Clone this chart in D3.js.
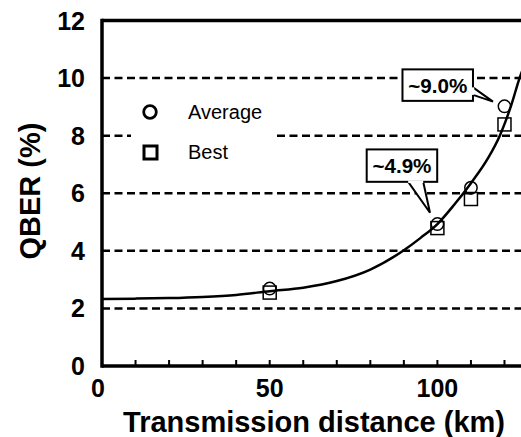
<!DOCTYPE html>
<html>
<head>
    <script src="https://d3js.org/d3.v7.min.js"></script>
    <style>
        body { margin: 0; background: #fff; }
        text { font-family: "Liberation Sans", Arial, Helvetica, sans-serif; fill: #000; }
        .tick-label { font-size: 25px; font-weight: bold; }
        .axis-title { font-size: 29px; font-weight: bold; }
        .legend-label { font-size: 20px; }
        .note { font-size: 21px; font-weight: bold; }
        .grid { stroke: #000; stroke-width: 2.5px; stroke-dasharray: 8 4.5; }
    </style>
</head>
<body>
    <div id="chart"></div>

    <script>
        // Measured points
        const distances = [50, 100, 110, 120];
        const averageQber = [2.69, 4.93, 6.19, 9.02];
        const bestQber = [2.55, 4.79, 5.80, 8.39];

        // Fitted curve
        const curveKm = [0, 10, 20, 30, 40, 50, 60, 70, 80, 90, 95, 100, 105, 110, 115, 118.6, 120, 122, 124.5, 126.5];
        const curveQber = [2.33, 2.34, 2.36, 2.40, 2.47, 2.60, 2.72, 2.95, 3.35, 4.02, 4.45, 4.93, 5.6, 6.35, 7.2, 8.0, 8.4, 9.05, 10.0, 10.6];

        // Axis ticks and labels
        const xTicks = [0, 50, 100];
        const xMinorTicks = [10, 20, 30, 40, 50, 60, 70, 80, 90, 100, 110, 120];
        const yTicks = [0, 2, 4, 6, 8, 10, 12];
        const gridLines = [2, 4, 6, 8, 10];

        // Callouts
        const notes = [
            { label: "~9.0%", km: 120, value: 9.0 },
            { label: "~4.9%", km: 100, value: 4.9 }
        ];
        const legendItems = ["Average", "Best"];

        const width = 521;
        const height = 437;

        const x = d3.scaleLinear().domain([0, 126]).range([102, 102 + 126 * 3.354]);
        const y = d3.scaleLinear().domain([0, 12]).range([366, 20.5]);

        const svg = d3.select("#chart")
            .append("svg")
            .attr("width", width)
            .attr("height", height);

        // Dashed grid lines
        svg.selectAll(".grid")
            .data(gridLines)
            .enter()
            .append("line")
            .attr("class", "grid")
            .attr("x1", x(0))
            .attr("x2", width)
            .attr("y1", d => y(d))
            .attr("y2", d => y(d));

        // Legend background hides the grid line behind it
        svg.append("rect")
            .attr("x", 131)
            .attr("y", 95)
            .attr("width", 146)
            .attr("height", 75)
            .attr("fill", "#fff");

        // Frame
        svg.append("line")
            .attr("x1", x(0)).attr("x2", width)
            .attr("y1", y(0)).attr("y2", y(0))
            .attr("stroke", "#000").attr("stroke-width", 3.5);
        svg.append("line")
            .attr("x1", x(0)).attr("x2", width)
            .attr("y1", y(12)).attr("y2", y(12))
            .attr("stroke", "#000").attr("stroke-width", 3.5);
        svg.append("line")
            .attr("x1", x(0)).attr("x2", x(0))
            .attr("y1", y(12) - 1.75).attr("y2", y(0) + 1.75)
            .attr("stroke", "#000").attr("stroke-width", 3.5);

        // Minor ticks pointing inward
        svg.selectAll(".minor")
            .data(xMinorTicks)
            .enter()
            .append("line")
            .attr("class", "minor")
            .attr("x1", d => x(d))
            .attr("x2", d => x(d))
            .attr("y1", y(0))
            .attr("y2", y(0) - 6)
            .attr("stroke", "#000")
            .attr("stroke-width", 2);

        // Tick labels
        svg.selectAll(".xlab")
            .data(xTicks)
            .enter()
            .append("text")
            .attr("class", "tick-label")
            .attr("text-anchor", "middle")
            .attr("x", d => x(d) - (d === 0 ? 4 : 0))
            .attr("y", 397)
            .text(d => d);

        svg.selectAll(".ylab")
            .data(yTicks)
            .enter()
            .append("text")
            .attr("class", "tick-label")
            .attr("text-anchor", "end")
            .attr("x", 85)
            .attr("y", d => y(d) + 9)
            .text(d => d);

        // Axis titles
        svg.append("text")
            .attr("class", "axis-title")
            .attr("text-anchor", "middle")
            .attr("x", 314)
            .attr("y", 432)
            .text("Transmission distance (km)");

        svg.append("text")
            .attr("class", "axis-title")
            .attr("text-anchor", "middle")
            .attr("transform", "translate(40,191) rotate(-90)")
            .text("QBER (%)");

        // Fit curve
        const line = d3.line()
            .x(d => x(d[0]))
            .y(d => y(d[1]))
            .curve(d3.curveMonotoneX);

        svg.append("path")
            .datum(d3.zip(curveKm, curveQber))
            .attr("d", line)
            .attr("fill", "none")
            .attr("stroke", "#000")
            .attr("stroke-width", 2.5);

        // Markers
        svg.selectAll(".best")
            .data(d3.zip(distances, bestQber))
            .enter()
            .append("rect")
            .attr("x", d => x(d[0]) - 6.5)
            .attr("y", d => y(d[1]) - 6.5)
            .attr("width", 13)
            .attr("height", 13)
            .attr("fill", "none")
            .attr("stroke", "#000")
            .attr("stroke-width", 1.5);

        svg.selectAll(".avg")
            .data(d3.zip(distances, averageQber))
            .enter()
            .append("circle")
            .attr("cx", d => x(d[0]))
            .attr("cy", d => y(d[1]))
            .attr("r", 6.2)
            .attr("fill", "none")
            .attr("stroke", "#000")
            .attr("stroke-width", 1.5);

        // Legend
        const legend = svg.append("g");
        legend.append("circle")
            .attr("cx", 150).attr("cy", 112).attr("r", 6.3)
            .attr("fill", "none").attr("stroke", "#000").attr("stroke-width", 2.8);
        legend.append("rect")
            .attr("x", 144).attr("y", 146).attr("width", 13).attr("height", 13)
            .attr("fill", "none").attr("stroke", "#000").attr("stroke-width", 3);
        legend.selectAll(".legend-label")
            .data(legendItems)
            .enter()
            .append("text")
            .attr("class", "legend-label")
            .attr("x", 188)
            .attr("y", (d, i) => 119 + i * 40)
            .text(d => d);

        // Callout boxes
        function callout(note, box, tail) {
            const px = x(note.km), py = y(note.value);
            const g = svg.append("g");
            g.append("path")
                .attr("d", `M${box.x0 + tail[0][0]},${box.y0 + tail[0][1]} L${px + tail[1][0]},${py + tail[1][1]} L${box.x0 + tail[2][0]},${box.y0 + tail[2][1]}`)
                .attr("fill", "#fff")
                .attr("stroke", "#000")
                .attr("stroke-width", 2);
            g.append("rect")
                .attr("x", box.x0).attr("y", box.y0)
                .attr("width", box.w).attr("height", box.h)
                .attr("fill", "#fff").attr("stroke", "#000").attr("stroke-width", 2);
            // patch the join so the tail opens into the box
            g.append("path")
                .attr("d", `M${box.x0 + tail[0][0]},${box.y0 + tail[0][1]} L${box.x0 + tail[2][0]},${box.y0 + tail[2][1]}`)
                .attr("stroke", "#fff").attr("stroke-width", 2.5);
            g.append("text")
                .attr("class", "note")
                .attr("text-anchor", "middle")
                .attr("x", box.x0 + box.w / 2)
                .attr("y", box.y0 + box.h / 2 + 7.5)
                .attr("textLength", 59)
                .attr("lengthAdjust", "spacingAndGlyphs")
                .text(note.label);
        }

        const px9 = x(notes[0].km), py9 = y(notes[0].value);
        callout(notes[0],
            { x0: px9 - 102, y0: py9 - 37.5, w: 70.5, h: 31.5 },
            [[70.5, 18], [-11.5, -5.2], [70.5, 25.5]]);

        const px4 = x(notes[1].km), py4 = y(notes[1].value);
        callout(notes[1],
            { x0: px4 - 70.7, y0: py4 - 75.5, w: 70.5, h: 32.4 },
            [[41.5, 32.4], [-7.4, -12.2], [56.5, 32.4]]);
    </script>
</body>
</html>
